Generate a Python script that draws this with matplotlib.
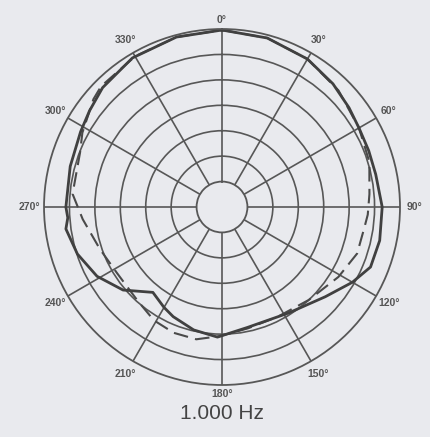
import matplotlib.pyplot as plt
import numpy as np

# polar response at 1 kHz, level in dB relative to on-axis (0 deg = front)
solid_angles = [0, 15, 30, 42, 52, 60, 69, 78, 90, 102, 112, 120, 131, 148, 168,
                182, 193, 204, 210, 219, 230, 241, 252, 262, 266, 270, 285, 298,
                306, 315, 329, 345, 360]
solid_db = [-0.2, -0.6, -1.4, -2.4, -3.3, -3.9, -4.1, -4.1, -3.5, -3.3, -3.5, -5.4,
            -8.1, -10.4, -10.8, -9.4, -10.2, -11.4, -12.2, -13.4, -9.6, -6.9,
            -5.1, -4.0, -4.6, -4.3, -4.1, -3.5, -2.8, -1.8, -0.8, -0.4, -0.2]

dashed_angles = [0, 15, 30, 45, 60, 73, 85, 93, 98, 109, 121, 137, 153, 168, 181,
                 191, 201, 211, 222, 238, 251, 265, 275, 291, 298, 310, 315, 330,
                 345, 360]
dashed_db = [-0.2, -0.6, -1.4, -2.6, -3.9, -4.7, -5.9, -6.3, -6.7, -6.9, -8.3,
             -10.0, -10.8, -10.6, -9.6, -8.5, -8.5, -9.0, -10.2, -10.6, -9.6,
             -7.5, -5.5, -5.1, -3.9, -2.0, -1.4, -0.8, -0.4, -0.2]

ring_levels = [-25, -20, -15, -10, -5]
spoke_angles = list(range(0, 360, 30))
spoke_labels = [str(a) + "\u00b0" for a in spoke_angles]

bg = "#e9eaee"
grid_col = "#575757"

fig = plt.figure(figsize=(4.30, 4.37), dpi=100, facecolor=bg)
ax = fig.add_axes([0.1023, 0.119, 0.828, 0.8146], projection="polar", facecolor=bg)
ax.set_theta_zero_location("N")
ax.set_theta_direction(-1)
ax.set_ylim(-30, 0)
ax.set_rorigin(-35)

ax.set_yticks(ring_levels)
ax.set_yticklabels([])
ax.set_xticks(np.deg2rad(spoke_angles))
ax.set_xticklabels([])
ax.grid(True, color=grid_col, linewidth=1.2)
for sp in ax.spines.values():
    sp.set_color(grid_col)
    sp.set_linewidth(1.3)

# labels round the outside
for a, lab in zip(spoke_angles, spoke_labels):
    r_lab = 1.8 if a in (0, 180) else 2.9
    ax.text(np.deg2rad(a), r_lab, lab, ha="center", va="center", fontsize=7.5,
            fontweight="bold", color="#555555", family="Liberation Sans",
            clip_on=False)

ax.plot(np.deg2rad(dashed_angles), dashed_db, color="#4a4a4a", linewidth=1.5,
        dashes=(7, 3.5))
ax.plot(np.deg2rad(solid_angles), solid_db, color="#404040", linewidth=2.0)

fig.text(0.5163, 0.053, "1.000 Hz", ha="center", va="center", fontsize=15,
         color="#444444", family="Liberation Sans")

fig.savefig("out.png", dpi=100, facecolor=bg)
